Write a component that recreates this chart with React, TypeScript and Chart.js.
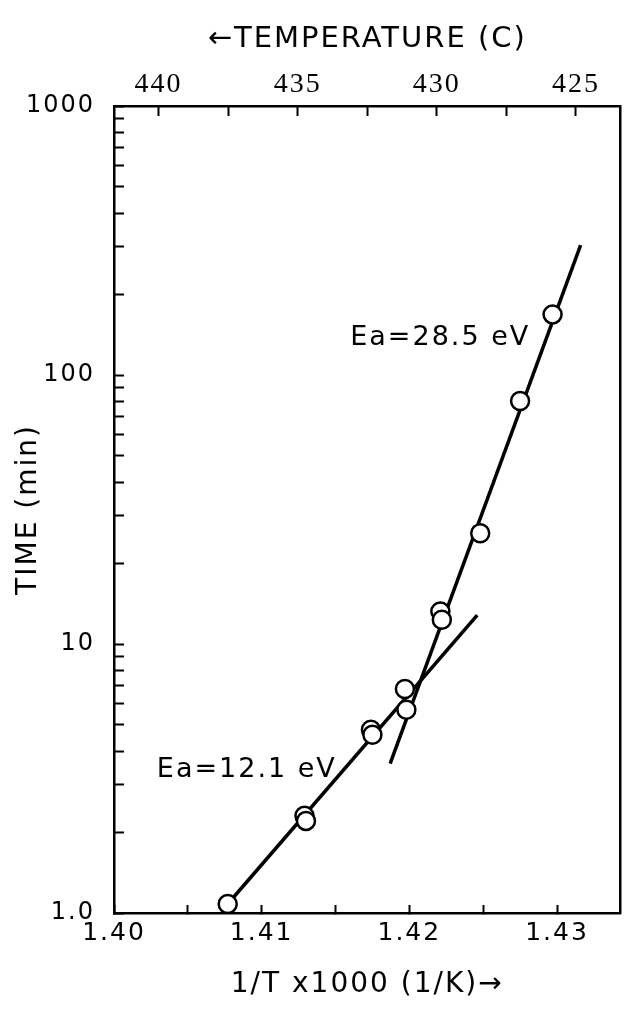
import React, { useEffect, useRef } from 'react';
import { Chart, registerables } from 'chart.js';

Chart.register(...registerables);

// ---- data ----
const invTemp = [1.4077, 1.4129, 1.413, 1.4174, 1.4175, 1.4197, 1.4198, 1.4221, 1.4222, 1.4248, 1.4275, 1.4297];
const timeMin = [1.08, 2.3, 2.2, 4.8, 4.6, 6.8, 5.7, 13.2, 12.3, 25.8, 80, 168];

const fitLowX = [1.4077, 1.4246];
const fitLowY = [1.08, 12.8];
const fitHighX = [1.4187, 1.4316];
const fitHighY = [3.59, 304];

const xTickValues = [1.4, 1.405, 1.41, 1.415, 1.42, 1.425, 1.43];
const xLabelValues = [1.4, 1.41, 1.42, 1.43];
const xLabels = ['1.40', '1.41', '1.42', '1.43'];

const tempTickValues = [425, 427.5, 430, 432.5, 435, 437.5, 440];
const tempLabelValues = [425, 430, 435, 440];
const tempLabels = ['425', '430', '435', '440'];

const yTickValues = [1, 2, 3, 4, 5, 6, 7, 8, 9, 10, 20, 30, 40, 50, 60, 70, 80, 90, 100, 200, 300, 400, 500, 600, 700, 800, 900, 1000];
const yLabelValues = [1, 10, 100, 1000];
const yLabels = ['1.0', '10', '100', '1000'];

const eaTexts = ['Ea=28.5 eV', 'Ea=12.1 eV'];
const eaAnchorX = [1.416, 1.4029];
const eaAnchorY = [129, 3.2];

const SANS = '"DejaVu Sans", sans-serif';
const SERIF = '"Liberation Serif", serif';
const BLACK = '#000';

const labelFor = (values: number[], labels: string[], v: number) => {
  const i = values.findIndex((t) => Math.abs(t - v) < 1e-6);
  return i >= 0 ? labels[i] : '';
};

const spacingPlugin = {
  id: 'letterSpacing',
  beforeDraw(chart: any) {
    chart.ctx.letterSpacing = '2px';
  },
  afterDraw(chart: any) {
    chart.ctx.letterSpacing = '0px';
  },
};

const eaPlugin = {
  id: 'eaLabels',
  afterDatasetsDraw(chart: any) {
    const { ctx, scales } = chart;
    ctx.save();
    ctx.font = `27px ${SANS}`;
    ctx.fillStyle = BLACK;
    ctx.letterSpacing = '2px';
    ctx.textAlign = 'left';
    ctx.textBaseline = 'alphabetic';
    eaTexts.forEach((t, i) => {
      ctx.fillText(t, scales.x.getPixelForValue(eaAnchorX[i]), scales.y.getPixelForValue(eaAnchorY[i]));
    });
    ctx.restore();
  },
};

export default function App() {
  const ref = useRef<HTMLCanvasElement>(null);

  useEffect(() => {
    const gridCommon = { drawOnChartArea: false, color: BLACK, tickColor: BLACK, tickWidth: 2 };
    const borderCommon = { color: BLACK, width: 2.5 };
    const chart = new Chart(ref.current as HTMLCanvasElement, {
      type: 'scatter',
      data: {
        datasets: [
          {
            type: 'scatter',
            label: 'measured',
            data: invTemp.map((x, i) => ({ x, y: timeMin[i] })),
            xAxisID: 'x',
            yAxisID: 'y',
            pointRadius: 9,
            pointBorderWidth: 2.5,
            pointBackgroundColor: '#fff',
            pointBorderColor: BLACK,
          },
          {
            type: 'line',
            label: 'fit 12.1 eV',
            data: fitLowX.map((x, i) => ({ x, y: fitLowY[i] })),
            xAxisID: 'x',
            yAxisID: 'y',
            borderColor: BLACK,
            borderWidth: 3.5,
            pointRadius: 0,
            fill: false,
          },
          {
            type: 'line',
            label: 'fit 28.5 eV',
            data: fitHighX.map((x, i) => ({ x, y: fitHighY[i] })),
            xAxisID: 'x',
            yAxisID: 'y',
            borderColor: BLACK,
            borderWidth: 3.5,
            pointRadius: 0,
            fill: false,
          },
        ],
      },
      options: {
        animation: false,
        responsive: false,
        layout: { padding: 0 },
        plugins: { legend: { display: false }, tooltip: { enabled: false } },
        scales: {
          x: {
            type: 'linear',
            position: 'bottom',
            min: 1.4,
            max: 1.4343,
            afterBuildTicks: (s: any) => {
              s.ticks = xTickValues.map((v) => ({ value: v }));
            },
            afterFit: (s: any) => {
              s.height = 100;
            },
            grid: { ...gridCommon, tickLength: -8 },
            border: borderCommon,
            ticks: {
              autoSkip: false,
              maxRotation: 0,
              padding: 13,
              color: BLACK,
              font: { family: SANS, size: 25 },
              callback: (v: any) => labelFor(xLabelValues, xLabels, Number(v)),
            },
            title: {
              display: true,
              text: '1/T x1000 (1/K)→',
              color: BLACK,
              font: { family: SANS, size: 28 },
              padding: { top: 0, bottom: 11 },
            },
          },
          xTop: {
            type: 'linear',
            position: 'top',
            reverse: true,
            min: 423.4,
            max: 441.6,
            afterBuildTicks: (s: any) => {
              s.ticks = tempTickValues.map((v) => ({ value: v }));
            },
            afterFit: (s: any) => {
              s.height = 106;
            },
            grid: { ...gridCommon, tickLength: -10 },
            border: borderCommon,
            ticks: {
              autoSkip: false,
              maxRotation: 0,
              padding: 15,
              color: BLACK,
              font: { family: SERIF, size: 28 },
              callback: (v: any) => labelFor(tempLabelValues, tempLabels, Number(v)),
            },
            title: {
              display: true,
              text: '←TEMPERATURE (C)',
              color: BLACK,
              font: { family: SANS, size: 29 },
              padding: { top: 22, bottom: 0 },
            },
          },
          y: {
            type: 'logarithmic',
            position: 'left',
            min: 1,
            max: 1000,
            afterBuildTicks: (s: any) => {
              s.ticks = yTickValues.map((v) => ({ value: v }));
            },
            afterFit: (s: any) => {
              s.width = 114;
            },
            grid: { ...gridCommon, tickLength: -10 },
            border: borderCommon,
            ticks: {
              autoSkip: false,
              padding: 29,
              color: BLACK,
              font: { family: SANS, size: 24 },
              callback: (v: any) => labelFor(yLabelValues, yLabels, Number(v)),
            },
            title: {
              display: true,
              text: 'TIME (min)',
              color: BLACK,
              font: { family: SANS, size: 28 },
              padding: { top: 12, bottom: 0 },
            },
          },
          yRight: {
            type: 'linear',
            position: 'right',
            min: 0,
            max: 1,
            afterFit: (s: any) => {
              s.width = 4;
            },
            grid: { drawOnChartArea: false, drawTicks: false },
            border: borderCommon,
            ticks: { display: false },
          },
        },
      } as any,
      plugins: [spacingPlugin, eaPlugin],
    });
    return () => chart.destroy();
  }, []);

  return (
    <div style={{ position: 'fixed', left: 0, top: 0, width: 632, height: 1013, background: '#fff' }}>
      <canvas ref={ref} width={632} height={1013} style={{ display: 'block', width: 632, height: 1013 }} />
    </div>
  );
}
